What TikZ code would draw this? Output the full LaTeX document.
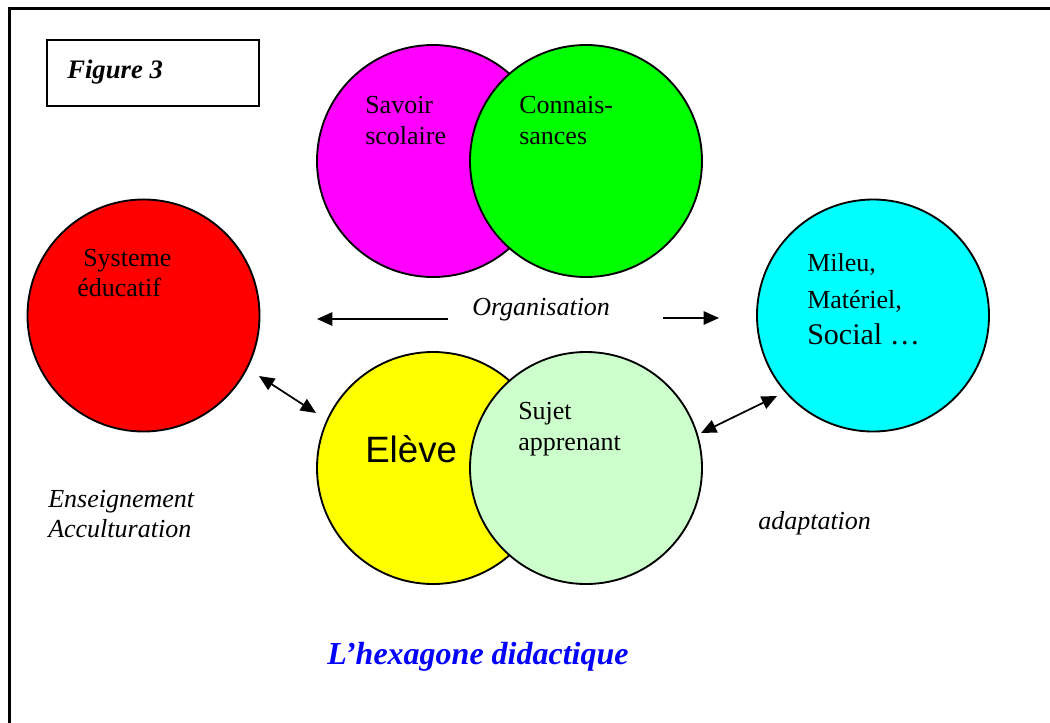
\documentclass[tikz,border=0pt]{standalone}
\usepackage{fontspec}
\setmainfont{Liberation Serif}
\newfontfamily\arialf{Liberation Sans}
\usetikzlibrary{arrows.meta}
\definecolor{cmag}{HTML}{FF00FF}
\definecolor{cgrn}{HTML}{00FF00}
\definecolor{cred}{HTML}{FF0000}
\definecolor{ccya}{HTML}{00FFFF}
\definecolor{cyel}{HTML}{FFFF00}
\definecolor{clgr}{HTML}{CCFFCC}
\definecolor{cblu}{HTML}{0000FF}
\tikzset{
  bubble/.style={circle, draw=black, line width=1.4pt, minimum size=174pt, inner sep=0pt},
  lbl/.style={anchor=base west, inner sep=0pt, font=\fontsize{19.5}{23}\selectfont},
  ilbl/.style={anchor=base west, inner sep=0pt, font=\fontsize{19.5}{23}\selectfont\itshape},
  conn/.style={line width=1.3pt, -{Triangle[length=11.5pt,width=10pt]}},
  dconn/.style={line width=1.3pt, {Triangle[length=11.5pt,width=10pt]}-{Triangle[length=11.5pt,width=10pt]}},
}
\begin{document}
\begin{tikzpicture}[x=0.75pt,y=-0.75pt]
\useasboundingbox (0,0) rectangle (1050,722);
\fill[white] (0,0) rectangle (1050,722);
% outer frame
\draw[line width=2pt] (9.5,740) -- (9.5,8.5) -- (1070,8.5);
% figure label box
\node[draw=black, line width=1.1pt, minimum width=159pt, minimum height=49.5pt, inner sep=0pt] (figbox) at (153,73) {};
\node[anchor=base west, inner sep=0pt, font=\fontsize{20}{24}\selectfont\bfseries\itshape] (figlbl) at (67,78) {Figure 3};
% circles
\node[bubble, fill=cmag] (savoir) at (433,161) {};
\node[bubble, fill=cgrn] (conn) at (586,161) {};
\node[bubble, fill=cred] (systeme) at (143.5,315.5) {};
\node[bubble, fill=ccya] (milieu) at (873,315.5) {};
\node[bubble, fill=cyel] (eleve) at (433,468) {};
\node[bubble, fill=clgr] (sujet) at (586,468) {};
% texts
\node[lbl] (t1) at (365,113) {Savoir};
\node[lbl] (t2) at (365,144) {scolaire};
\node[lbl] (t3) at (519,113) {Connais-};
\node[lbl] (t4) at (519,144) {sances};
\node[lbl] (t5) at (83,266) {Systeme};
\node[lbl] (t6) at (77,296) {éducatif};
\node[lbl] (t7) at (807,271) {Mileu,};
\node[lbl] (t8) at (807,308) {Matériel,};
\node[anchor=base west, inner sep=0pt, font=\fontsize{22.5}{26}\selectfont] (t9) at (807,344) {Social …};
\node[anchor=base west, inner sep=0pt, font=\arialf\fontsize{27.5}{32}\selectfont] (t10) at (365,462) {Elève};
\node[lbl] (t11) at (518,419) {Sujet};
\node[lbl] (t12) at (518,450) {apprenant};
\node[ilbl] (org) at (472,315) {Organisation};
\node[ilbl] (ens) at (48,507) {Enseignement};
\node[ilbl] (acc) at (48,537) {Acculturation};
\node[ilbl] (adp) at (758,529) {adaptation};
\node[anchor=base west, inner sep=0pt, text=cblu, font=\fontsize{24}{28}\selectfont\bfseries\itshape] (title) at (327,664) {L’hexagone didactique};
% connectors
\coordinate (oL1) at (448,319);
\coordinate (oL2) at (317,319);
\coordinate (oR1) at (663,318);
\coordinate (oR2) at (719,318);
\draw[conn] (oL1) -- (oL2);
\draw[conn] (oR1) -- (oR2);
\coordinate (dL1) at (259,376);
\coordinate (dL2) at (316,413);
\coordinate (dR1) at (701,433);
\coordinate (dR2) at (777,396);
\draw[dconn] (dL1) -- (dL2);
\draw[dconn] (dR1) -- (dR2);
\end{tikzpicture}
\end{document}
